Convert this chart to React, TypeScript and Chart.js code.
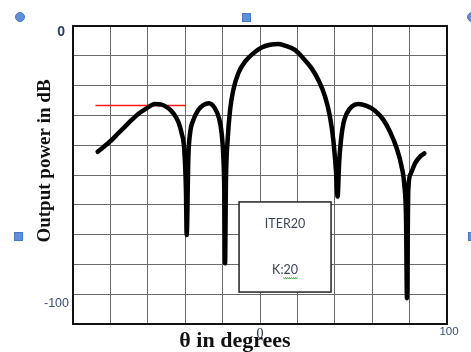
import React, { useEffect, useRef } from "react";
import { Chart, registerables } from "chart.js";

Chart.register(...registerables);

// Array pattern (dB) vs angle (degrees)
const thetaDeg: number[] = [
  -86.8, -79.3, -75.8, -72.2, -68.6, -65.1, -61.5, -56.1, -52.6, -49.0, -46.3, -43.7, -41.9, -40.5, -39.6, -39.2,
  -38.3, -37.4, -35.6, -33.0, -30.3, -27.3, -24.1, -21.9, -20.5, -19.6, -19.1, -18.7,
  -18.2, -17.3, -16.0, -14.3, -11.6, -8.0, -3.6, 0.9, 5.3, 9.8, 14.3, 18.7, 23.2, 27.6, 31.2, 34.8, 37.4, 39.2, 40.6, 41.5,
  42.3, 43.3, 44.6, 46.4, 49.0, 52.6, 57.0, 61.5, 66.0, 69.5, 73.1, 75.6, 77.2, 78.1, 78.6,
  79.3, 80.7, 82.9, 85.6, 87.9,
];
const powerDb: number[] = [
  -46.9, -42.5, -40.0, -37.5, -35.0, -32.8, -31.1, -29.1, -29.3, -30.7, -32.6, -35.7, -40.0, -46.2, -61.1, -77.9,
  -48.7, -40.0, -35.0, -31.3, -29.5, -28.8, -30.7, -34.4, -40.0, -48.7, -61.1, -88.5,
  -57.4, -42.5, -31.3, -23.9, -17.6, -13.3, -10.2, -8.0, -7.0, -6.7, -7.5, -8.9, -12.1, -15.8, -20.1, -26.3, -33.8, -42.5, -53.7, -63.6,
  -51.2, -42.5, -36.3, -32.6, -30.1, -29.1, -29.8, -31.6, -35.0, -39.4, -45.6, -52.0, -59.5, -72.0, -101.5,
  -61.1, -54.9, -51.2, -48.7, -47.5,
];
// Red sidelobe-level marker
const markerTheta: number[] = [-88, -39.6];
const markerDb: number[] = [-29.6, -29.6];

const xMin = -100;
const xMax = 100;
const yMin = -1000 / 9;
const yMax = 0;
const yTickLabels: { value: number; text: string }[] = [
  { value: 0, text: "0" },
  { value: -100, text: "-100" },
];
const xTickLabels: { value: number; text: string }[] = [
  { value: 0, text: "0" },
  { value: 100, text: "100" },
];
const xTitle = "θ in degrees";
const yTitle = "Output power in dB";
const boxLines = ["ITER20", "K:20"];
const boxRange = { x0: -11.2, x1: 38.0, y0: -65.6, y1: -99.2 };

const decorPlugin = {
  id: "decor",
  beforeDatasetsDraw(chart: any) {
    const { ctx, chartArea } = chart;
    ctx.save();
    ctx.strokeStyle = "#111";
    ctx.lineWidth = 2;
    ctx.strokeRect(chartArea.left, chartArea.top, chartArea.right - chartArea.left, chartArea.bottom - chartArea.top);
    ctx.restore();
  },
  afterDraw(chart: any) {
    const { ctx, chartArea } = chart;
    const xs = chart.scales.x;
    const ys = chart.scales.y;
    ctx.save();
    // text box
    const bx0 = xs.getPixelForValue(boxRange.x0);
    const bx1 = xs.getPixelForValue(boxRange.x1);
    const by0 = ys.getPixelForValue(boxRange.y0);
    const by1 = ys.getPixelForValue(boxRange.y1);
    ctx.fillStyle = "#fff";
    ctx.fillRect(bx0, by0, bx1 - bx0, by1 - by0);
    ctx.strokeStyle = "#222";
    ctx.lineWidth = 1.5;
    ctx.strokeRect(bx0, by0, bx1 - bx0, by1 - by0);
    ctx.fillStyle = "#3d4656";
    ctx.font = "12.5px Lato, 'Open Sans', sans-serif";
    ctx.textAlign = "center";
    ctx.textBaseline = "middle";
    const cx = (bx0 + bx1) / 2;
    const h = by1 - by0;
    ctx.fillText(boxLines[0], cx, by0 + h * 0.25);
    ctx.fillText(boxLines[1], cx, by0 + h * 0.75);
    // spell-check squiggle under "20"
    const w = ctx.measureText(boxLines[1]).width;
    const sx = cx + w / 2 - ctx.measureText("20").width;
    const sy = by0 + h * 0.75 + 8;
    ctx.strokeStyle = "#3aa83a";
    ctx.lineWidth = 1;
    ctx.beginPath();
    for (let i = 0; i <= 14; i++) {
      const px = sx + i * 1;
      const py = sy + (i % 2 === 0 ? 0 : 1.5);
      if (i === 0) ctx.moveTo(px, py);
      else ctx.lineTo(px, py);
    }
    ctx.stroke();

    // y tick labels
    ctx.textBaseline = "middle";
    ctx.textAlign = "right";
    yTickLabels.forEach((t, i) => {
      const py = ys.getPixelForValue(t.value);
      if (i === 0) {
        ctx.font = "bold 14px 'Liberation Sans', Arial, sans-serif";
        ctx.fillStyle = "#2b3a62";
        ctx.fillText(t.text, chartArea.left - 8, py + 6);
      } else {
        ctx.font = "12.5px 'Liberation Sans', Arial, sans-serif";
        ctx.fillStyle = "#3b4d78";
        ctx.fillText(t.text, chartArea.left - 4, py + 9);
      }
    });
    // x title
    ctx.fillStyle = "#111";
    ctx.font = "bold 22px 'Liberation Serif', 'Times New Roman', serif";
    ctx.textAlign = "center";
    ctx.fillText(xTitle, 235, chartArea.bottom + 17);
    // x tick labels
    xTickLabels.forEach((t, i) => {
      const px = xs.getPixelForValue(t.value);
      if (i === 0) {
        ctx.font = "14px 'Liberation Serif', serif";
        ctx.fillStyle = "#1e2a44";
        ctx.fillText(t.text, px, chartArea.bottom + 10);
      } else {
        ctx.font = "11.5px 'Liberation Sans', Arial, sans-serif";
        ctx.fillStyle = "#3b4d78";
        ctx.fillText(t.text, px + 2, chartArea.bottom + 8);
      }
    });
    // y title
    ctx.translate(45, (chartArea.top + chartArea.bottom) / 2 - 14);
    ctx.rotate(-Math.PI / 2);
    ctx.font = "bold 19px 'Liberation Serif', 'Times New Roman', serif";
    ctx.fillStyle = "#111";
    ctx.textAlign = "center";
    ctx.fillText(yTitle, 0, 0);
    ctx.restore();
  },
};

function Handle({ x, y, round }: { x: number; y: number; round?: boolean }) {
  const size = round ? 10 : 9;
  return (
    <div
      style={{
        position: "absolute",
        left: x - size / 2,
        top: y - size / 2,
        width: size,
        height: size,
        boxSizing: "border-box",
        borderRadius: round ? "50%" : 0,
        background: "#5d8fdb",
        border: "1px solid #4a78c4",
      }}
    />
  );
}

export default function App() {
  const ref = useRef<HTMLCanvasElement | null>(null);
  useEffect(() => {
    if (!ref.current) return;
    const chart = new Chart(ref.current, {
      type: "line",
      data: {
        datasets: [
          {
            data: thetaDeg.map((t, i) => ({ x: t, y: powerDb[i] })),
            borderColor: "#000",
            borderWidth: 4.5,
            pointRadius: 0,
            cubicInterpolationMode: "monotone",
            borderCapStyle: "round",
            borderJoinStyle: "round",
            fill: false,
          },
          {
            data: markerTheta.map((t, i) => ({ x: t, y: markerDb[i] })),
            borderColor: "#ff1a1a",
            borderWidth: 1.5,
            pointRadius: 0,
            fill: false,
          },
        ],
      },
      options: {
        responsive: false,
        animation: false,
        layout: { padding: { left: 73, top: 26, right: 24, bottom: 28 } },
        plugins: { legend: { display: false }, tooltip: { enabled: false } },
        scales: {
          x: {
            type: "linear",
            min: xMin,
            max: xMax,
            ticks: { display: false, stepSize: 20 },
            grid: { color: "#6a6a6a", lineWidth: 1, drawTicks: false },
            border: { display: false },
          },
          y: {
            type: "linear",
            min: yMin,
            max: yMax,
            ticks: { display: false, count: 11 },
            grid: { color: "#6a6a6a", lineWidth: 1, drawTicks: false },
            border: { display: false },
          },
        },
      },
      plugins: [decorPlugin],
    });
    return () => chart.destroy();
  }, []);
  return (
    <div style={{ position: "absolute", left: 0, top: 0, width: 471, height: 352, background: "#fff", overflow: "hidden" }}>
      <canvas ref={ref} width={471} height={352} style={{ display: "block" }} />
      <Handle x={20} y={17} round />
      <Handle x={246} y={17} />
      <Handle x={472} y={17} round />
      <Handle x={18} y={236} />
      <Handle x={472} y={236} />
    </div>
  );
}
